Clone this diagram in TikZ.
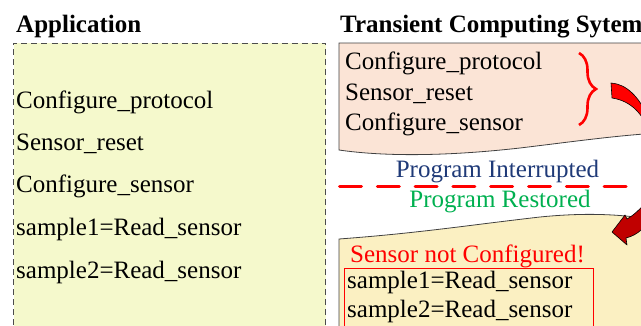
\documentclass[tikz,border=0pt]{standalone}
\usepackage{fontspec}
\setmainfont{Liberation Serif}
\usetikzlibrary{decorations.pathreplacing}
\definecolor{appfill}{HTML}{F5F9CC}
\definecolor{topfill}{HTML}{FBE4D6}
\definecolor{botfill}{HTML}{FBF0C2}
\definecolor{navytext}{HTML}{1F3A78}
\definecolor{greentext}{HTML}{00B050}
\definecolor{darkred}{HTML}{C00000}
\tikzset{
  txt/.style={anchor=base west, inner sep=0pt, font=\fontsize{25}{30}\selectfont},
  head/.style={txt, font=\fontsize{25}{30}\selectfont\bfseries},
  panel/.style={draw=black!75, line width=0.8pt},
  blockarrow/.style={draw=black, line width=0.6pt, line join=round},
}
\begin{document}
\begin{tikzpicture}[x=1pt,y=1pt]
\useasboundingbox (0,0) rectangle (641,325);
\clip (0,0) rectangle (641,325);

% ---- Application column ----
\node[head] (apphead) at (16,293) {Application};
\draw[fill=appfill, draw=black!70, line width=0.8pt, dash pattern=on 6pt off 4pt]
  (13.5,-10) rectangle (325.5,282);
\node[txt] (a1) at (16,217) {Configure\_protocol};
\node[txt] (a2) at (16,175) {Sensor\_reset};
\node[txt] (a3) at (16,133) {Configure\_sensor};
\node[txt] (a4) at (16,90) {sample1=Read\_sensor};
\node[txt] (a5) at (16,47) {sample2=Read\_sensor};

% ---- Transient computing column ----
\node[head] (tchead) at (340,293) {Transient Computing Sytem};

% first run (before the power loss)
\draw[panel, fill=topfill]
  (660,282) -- (339,282) -- (339,175)
  .. controls (380,169) and (440,168) .. (520,177)
  .. controls (570,183) and (620,190) .. (660,192) -- cycle;
\node[txt] (t1) at (345,255) {Configure\_protocol};
\node[txt] (t2) at (345,225) {Sensor\_reset};
\node[txt] (t3) at (345,195) {Configure\_sensor};
\draw[red, line width=2.6pt, decorate, decoration={brace, amplitude=17pt, aspect=0.5}]
  (579,272) -- (579,200);

% power loss
\node[txt, text=navytext, anchor=base] (intr) at (497.5,148) {Program Interrupted};
\coordinate (cutL) at (339.5,139);
\coordinate (cutR) at (626.5,139);
\draw[red, line width=3pt, line cap=round, dash pattern=on 22pt off 15.8pt] (cutL) -- (cutR);
\node[txt, text=greentext, anchor=base] (rest) at (500,118) {Program Restored};

% second run (after restoring)
\draw[panel, fill=botfill]
  (339,-10) -- (339,86)
  .. controls (420,92) and (470,100) .. (540,108)
  .. controls (580,112) and (620,112) .. (660,104) -- (660,-10) -- cycle;
\node[txt, text=red] (warn) at (350,63) {Sensor not Configured!};
\draw[red, line width=0.9pt] (344,-10) -- (344,57) -- (593,57) -- (593,-10);
\node[txt] (b1) at (347,37) {sample1=Read\_sensor};
\node[txt] (b2) at (347,8) {sample2=Read\_sensor};

% curved arrow leaving the first run
\draw[blockarrow, fill=red]
  (611,242) .. controls (626,241) and (639,229) .. (649,206)
  -- (652,188)
  .. controls (644,210) and (632,224) .. (612,227) -- cycle;

% curved arrow entering the second run
\draw[blockarrow, fill=darkred]
  (650,128) .. controls (645,121) and (636,111) .. (627,106)
  -- (625,110) -- (612,93) -- (627,80) -- (626,87)
  .. controls (638,90) and (646,98) .. (652,110) -- cycle;
\end{tikzpicture}
\end{document}
